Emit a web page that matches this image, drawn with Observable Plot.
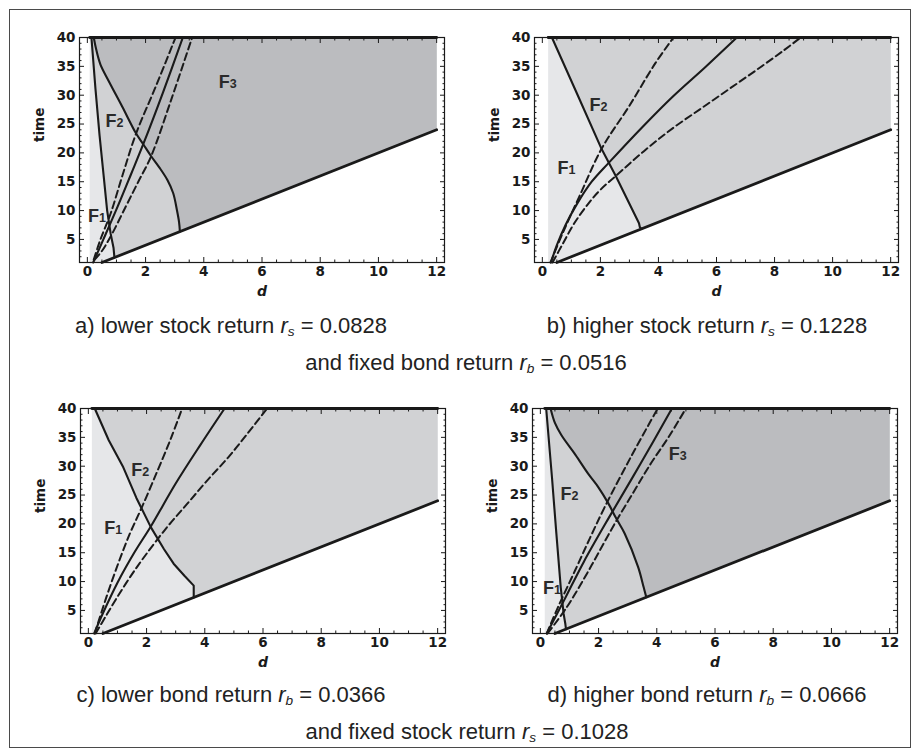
<!DOCTYPE html>
<html><head><meta charset="utf-8">
<script src="https://cdn.jsdelivr.net/npm/d3@7"></script>
<script src="https://cdn.jsdelivr.net/npm/@observablehq/plot@0.6"></script>
<style>
body{margin:0;background:#fff;}
#fig{position:relative;width:920px;height:752px;font-family:"Liberation Sans",Arial,sans-serif;overflow:hidden;}
#border{position:absolute;left:9px;top:9px;width:900px;height:737px;border:1.5px solid #4a4a4a;}
.panel{position:absolute;}
.panel svg text{font-weight:bold;}
.cap{position:absolute;font-size:22px;color:#222;white-space:nowrap;transform:translate(-50%,-50%);}
.cap sub{font-size:0.62em;vertical-align:-0.25em;font-style:italic;}
</style></head>
<body><div id="fig"><div id="border"></div></div>
<script>
// ---- axes / ticks ----
const xTicks = [0, 2, 4, 6, 8, 10, 12];
const xMinor = [0.5, 1, 1.5, 2.5, 3, 3.5, 4.5, 5, 5.5, 6.5, 7, 7.5, 8.5, 9, 9.5, 10.5, 11, 11.5];
const yTicks = [5, 10, 15, 20, 25, 30, 35, 40];
const yMinor = [1, 2, 3, 4, 6, 7, 8, 9, 11, 12, 13, 14, 16, 17, 18, 19, 21, 22, 23, 24, 26, 27, 28, 29, 31, 32, 33, 34, 36, 37, 38, 39];
const xDomain = [-0.27, 12.27];
const yDomain = [1, 40];

// ---- region outline shared by all panels ----
const lowerLine = [[0.5, 1], [12, 24]];      // time = 2d boundary
const regionCorners = [[12, 24], [12, 40]];
const regionStart = [0.08, 0.2, 0.12, 0.15]; // a, b, c, d

// ---- panel a: lower stock return ----
const aBound1 = [[0.14,40],[0.28,31],[0.42,23],[0.56,16],[0.68,10],[0.8,6],[0.9,3.5],[0.93,1.86]];
const aBound2 = [[0.22,40],[0.3,38],[0.45,35.3],[0.75,32.3],[1.2,28],[1.67,23.4],[1.92,21.5],[2.18,19.5],[2.47,17.5],[2.75,15.3],[2.95,13],[3.08,10],[3.15,8],[3.18,6.36]];
const aSolid = [[0.2,1],[0.55,5],[1.05,10.8],[1.5,16.3],[1.92,21.5],[2.6,30.5],[3.28,40]];
const aDashL = [[0.22,1.5],[0.45,5],[0.8,9.5],[1.2,16],[1.67,23.3],[2.35,31.5],[3.03,40]];
const aDashR = [[0.25,1.5],[0.5,3],[0.8,5.5],[1.3,10.5],[1.75,15],[2.18,19.3],[2.9,29.5],[3.6,40]];
const aLabels = [[4.89,31.3,"3"],[1.0,24.5,"2"],[0.4,8.0,"1"]];

// ---- panel b: higher stock return ----
const bBound1 = [[0.33,40],[1.2,30.2],[2.02,20.9],[2.53,16],[3.33,7.8],[3.36,7.1],[3.42,6.84]];
const bSolid = [[0.3,1],[0.5,4],[0.8,7.5],[1.2,11.2],[1.7,15],[2.31,18.4],[3.45,24.5],[4.48,29.7],[5.62,34.9],[6.7,40]];
const bDashL = [[0.28,1],[0.71,6.2],[1.28,12.5],[2.05,20.8],[2.99,28.1],[3.9,35.6],[4.52,40]];
const bDashR = [[0.35,1],[0.7,4.2],[1.1,7.8],[1.6,11.3],[2.0,13.6],[2.53,16.0],[3.5,20.3],[4.5,24.3],[5.5,27.8],[6.5,31.3],[7.5,34.8],[8.3,37.7],[8.9,40]];
const bLabels = [[2.0,27.3,"2"],[0.9,16.4,"1"]];

// ---- panel c: lower bond return ----
const cBound1 = [[0.22,40],[0.7,34.5],[1.2,29.8],[1.65,24.5],[2.15,19.4],[2.6,15.6],[2.93,13.1],[3.3,11],[3.62,9.3],[3.62,7.24]];
const cSolid = [[0.2,1],[0.5,4.5],[1.0,9.8],[1.6,15.2],[2.15,19.6],[3.0,27],[3.85,33.7],[4.68,40]];
const cDashL = [[0.22,1],[0.58,6.7],[0.98,12.5],[1.4,18],[1.84,22.9],[2.4,29.5],[2.85,35],[3.22,40]];
const cDashR = [[0.25,1],[0.6,4],[0.98,7.2],[1.49,11.2],[2.01,14.9],[2.7,19.4],[3.4,23.5],[4.08,27.5],[4.8,31.5],[5.46,35.6],[6.14,40]];
const cLabels = [[1.85,28.3,"2"],[0.92,18.3,"1"]];

// ---- panel d: higher bond return ----
const dBound1 = [[0.2,40],[0.4,28],[0.55,18.3],[0.7,9],[0.8,4.4],[0.86,2.6],[0.88,1.76]];
const dBound2 = [[0.35,40],[0.5,37.5],[0.72,35.4],[1.2,32],[1.64,28.7],[2.0,26.3],[2.33,23.6],[2.6,21],[2.9,18.3],[3.36,12.5],[3.55,9],[3.64,7.28]];
const dSolid = [[0.22,1],[0.84,7],[1.5,13.5],[2.38,21.3],[3.45,30.5],[4.52,40]];
const dDashL = [[0.22,1],[0.6,5.5],[1.2,12],[1.7,17.5],[2.21,22.9],[3.1,31.5],[4.03,40]];
const dDashR = [[0.25,1],[0.9,5.5],[1.5,10.5],[2.0,15],[2.55,20],[3.2,25.5],[3.8,30.5],[4.4,35],[5.0,40]];
const dLabels = [[4.79,31,"3"],[1.07,24.1,"2"],[0.47,7.8,"1"]];

// ---- styles ----
const F1col = "#e6e7e9", F2col = "#d1d2d4", F3col = "#bbbcbf", ink = "#1a1a1a";
const axisFont = "'DejaVu Sans', 'Liberation Sans', Arial, sans-serif";
const labelFont = "'Liberation Sans', Arial, sans-serif";

function panel({start, bound1, bound2, solid, dashL, dashR, labels, mLeft, mRight}) {
  const full = [[start, 40], [start, 1], ...lowerLine, [12, 40]];
  const marks = [
    Plot.line(full, {fill: F1col, stroke: "none"}),
    Plot.line([...bound1, ...regionCorners], {fill: F2col, stroke: "none"})
  ];
  if (bound2) marks.push(Plot.line([...bound2, ...regionCorners], {fill: F3col, stroke: "none"}));
  marks.push(
    Plot.line(dashL, {stroke: ink, strokeWidth: 2, strokeDasharray: "7,4", curve: "catmull-rom"}),
    Plot.line(dashR, {stroke: ink, strokeWidth: 2, strokeDasharray: "7,4", curve: "catmull-rom"}),
    Plot.line(solid, {stroke: ink, strokeWidth: 2.1, curve: "catmull-rom"}),
    Plot.line(bound1, {stroke: ink, strokeWidth: 2.1, curve: "linear", strokeLinejoin: "round"}),
  );
  if (bound2) marks.push(Plot.line(bound2, {stroke: ink, strokeWidth: 2.1, curve: "catmull-rom"}));
  marks.push(
    Plot.line(lowerLine, {stroke: ink, strokeWidth: 2.8}),
    Plot.line([[start, 40], [12, 40]], {stroke: ink, strokeWidth: 2.8}),
    Plot.text(labels, {x: d => d[0], y: d => d[1], text: () => "F", textAnchor: "end", lineAnchor: "bottom", fontSize: 18, fontWeight: "bold", fontFamily: labelFont, fill: "#2a2a2a"}),
    Plot.text(labels, {x: d => d[0], y: d => d[1], text: d => d[2], textAnchor: "start", lineAnchor: "bottom", fontSize: 12.5, fontWeight: "bold", fontFamily: labelFont, fill: "#2a2a2a"}),
    Plot.frame({stroke: ink, strokeWidth: 1.2}),
    // inward ticks, all four sides
    Plot.axisX({ticks: xTicks, anchor: "bottom", tickSize: -5, fill: "none", label: null, stroke: ink}),
    Plot.axisX({ticks: xMinor, anchor: "bottom", tickSize: -2.5, fill: "none", label: null, stroke: ink}),
    Plot.axisX({ticks: xTicks, anchor: "top", tickSize: -5, fill: "none", label: null, stroke: ink}),
    Plot.axisX({ticks: xMinor, anchor: "top", tickSize: -2.5, fill: "none", label: null, stroke: ink}),
    Plot.axisY({ticks: yTicks, anchor: "left", tickSize: -5, fill: "none", label: null, stroke: ink}),
    Plot.axisY({ticks: yMinor, anchor: "left", tickSize: -2.5, fill: "none", label: null, stroke: ink}),
    Plot.axisY({ticks: yTicks, anchor: "right", tickSize: -5, fill: "none", label: null, stroke: ink}),
    Plot.axisY({ticks: yMinor, anchor: "right", tickSize: -2.5, fill: "none", label: null, stroke: ink}),
    // tick labels (size from the svg style)
    Plot.axisX({ticks: xTicks, anchor: "bottom", tickSize: 0, tickPadding: 4, label: null, fill: ink}),
    Plot.axisY({ticks: yTicks, anchor: "left", tickSize: 0, tickPadding: 4, label: null, fill: ink}),
    Plot.text(["d"], {frameAnchor: "bottom", dy: 33, text: d => d, fontStyle: "italic", fontWeight: "bold", fontSize: 14, fill: ink}),
    Plot.text(["time"], {frameAnchor: "left", dx: -40, dy: -8, text: d => d, rotate: -90, fontWeight: "bold", fontSize: 13.5, fill: ink})
  );
  return Plot.plot({
    width: 460, height: 300,
    marginLeft: mLeft, marginRight: mRight, marginTop: 37, marginBottom: 38,
    x: {domain: xDomain}, y: {domain: yDomain},
    style: {fontFamily: axisFont, fontSize: "13.5px", fontWeight: "bold", background: "transparent", overflow: "visible", color: ink},
    marks
  });
}

const fig = document.getElementById("fig");
const specs = [
  {left: 0, top: 0, start: regionStart[0], bound1: aBound1, bound2: aBound2, solid: aSolid, dashL: aDashL, dashR: aDashR, labels: aLabels, mLeft: 79, mRight: 16},
  {left: 460, top: 0, start: regionStart[1], bound1: bBound1, bound2: null, solid: bSolid, dashL: bDashL, dashR: bDashR, labels: bLabels, mLeft: 74, mRight: 22},
  {left: 0, top: 371, start: regionStart[2], bound1: cBound1, bound2: null, solid: cSolid, dashL: cDashL, dashR: cDashR, labels: cLabels, mLeft: 80, mRight: 15},
  {left: 460, top: 371, start: regionStart[3], bound1: dBound1, bound2: dBound2, solid: dSolid, dashL: dDashL, dashR: dDashR, labels: dLabels, mLeft: 72, mRight: 23}
];
for (const s of specs) {
  const div = document.createElement("div");
  div.className = "panel";
  div.style.left = s.left + "px";
  div.style.top = s.top + "px";
  div.appendChild(panel(s));
  fig.appendChild(div);
}

// ---- captions ----
const captions = [
  {x: 231, y: 326, html: "a) lower stock return <i>r</i><sub>s</sub> = 0.0828"},
  {x: 707, y: 326, html: "b) higher stock return <i>r</i><sub>s</sub> = 0.1228"},
  {x: 466, y: 363, html: "and fixed bond return <i>r</i><sub>b</sub> = 0.0516"},
  {x: 231, y: 695, html: "c) lower bond return <i>r</i><sub>b</sub> = 0.0366"},
  {x: 707, y: 695, html: "d) higher bond return <i>r</i><sub>b</sub> = 0.0666"},
  {x: 467, y: 732, html: "and fixed stock return <i>r</i><sub>s</sub> = 0.1028"}
];
for (const c of captions) {
  const el = document.createElement("div");
  el.className = "cap";
  el.style.left = c.x + "px";
  el.style.top = c.y + "px";
  el.innerHTML = c.html;
  fig.appendChild(el);
}
</script>
</body></html>
